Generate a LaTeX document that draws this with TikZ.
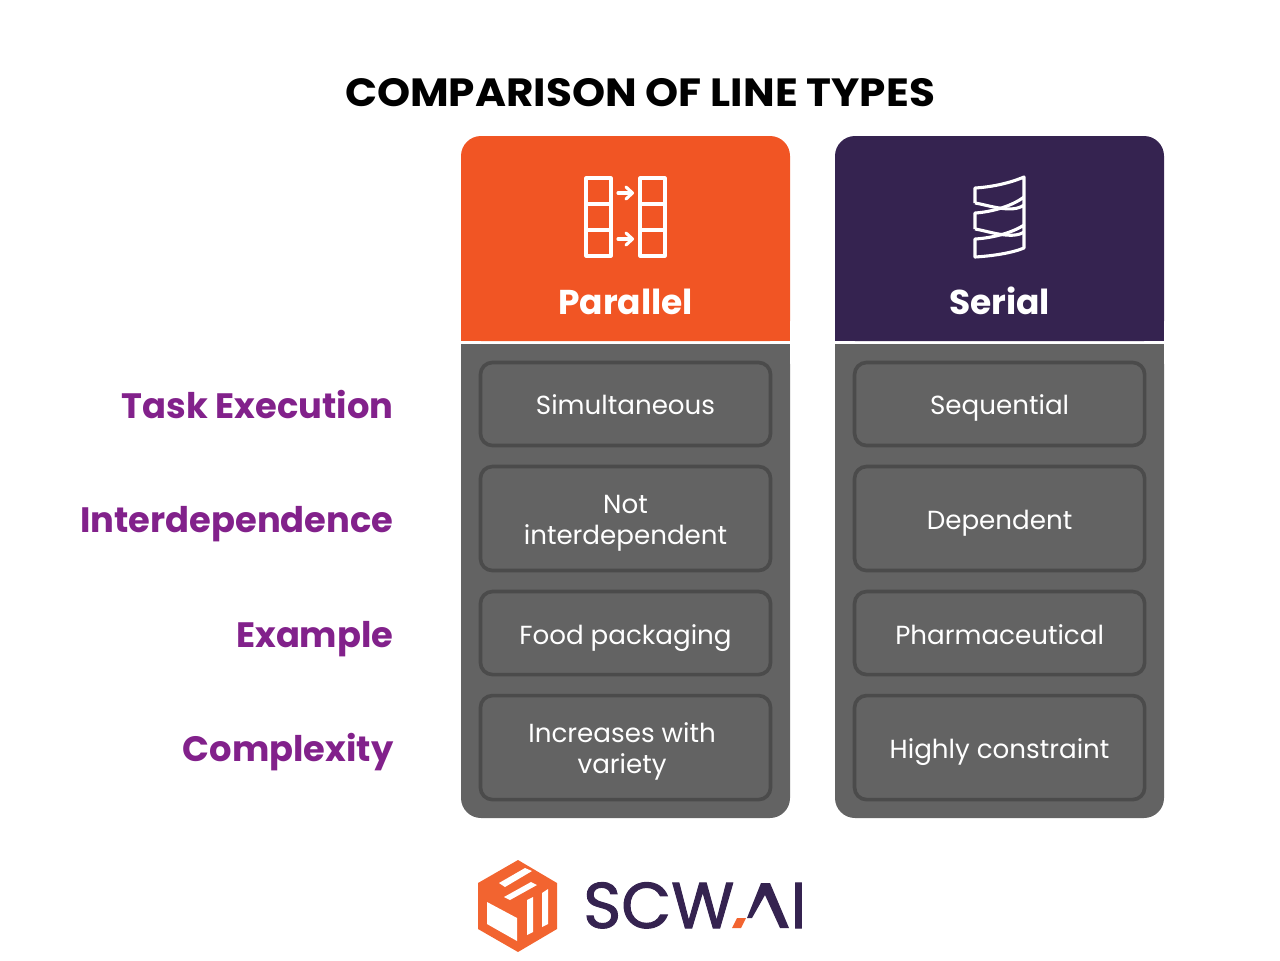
\documentclass[tikz,border=0pt]{standalone}
\usepackage{fontspec}
\setmainfont{Poppins}
\newfontfamily\titlefont[FakeStretch=1.07]{Poppins}
\newfontfamily\logofont[FakeBold=1.5]{Poppins}
\usetikzlibrary{positioning}
\definecolor{parcol}{HTML}{F15524}
\definecolor{sercol}{HTML}{352350}
\definecolor{bodycol}{HTML}{636363}
\definecolor{edgecol}{HTML}{4B4B4B}
\definecolor{labcol}{HTML}{82218B}
\definecolor{logocol}{HTML}{F26430}
\newcommand{\celltop}{\rule{0pt}{21.6pt}}
\newcommand{\twotop}{\rule{0pt}{26pt}}
\newcommand{\twobot}{\rule[-11.6pt]{0pt}{1pt}}
\newcommand{\cellbot}{\rule[-6pt]{0pt}{6pt}}
\newcommand{\labstrut}{\rule[-7pt]{0pt}{34pt}}
\tikzset{
	cell/.style={draw=edgecol, line width=2.6pt, rounded corners=0.3cm, text=white, align=center, minimum width=7.25cm, outer sep=0pt, font=\fontsize{18.6}{22}\selectfont, execute at begin node=\celltop, execute at end node=\cellbot},
	short/.style={cell, minimum height=2.075cm},
	tall/.style={cell, minimum height=2.6cm},
	rowlab/.style={text=labcol, anchor=east, font=\fontsize{25.1}{28}\selectfont\bfseries, execute at begin node=\labstrut},
	headlab/.style={text=white, font=\fontsize{24.5}{28}\selectfont\bfseries, execute at begin node=\labstrut},
	icon/.style={draw=white, line width=2.2pt, line join=round},
}
\begin{document}
\begin{tikzpicture}[x=0.025cm,y=-0.025cm]
	\useasboundingbox (0,0) rectangle (1280,960);
	\node (title) at (640,93) {\fontsize{28}{30}\titlefont\bfseries COMPARISON OF LINE TYPES};

	% columns
	\fill[parcol, rounded corners=0.5cm] (461,341) -- (461,136) -- (790,136) -- (790,341) -- cycle;
	\fill[sercol, rounded corners=0.5cm] (835,341) -- (835,136) -- (1164,136) -- (1164,341) -- cycle;
	\fill[bodycol, rounded corners=0.5cm] (461,344) -- (461,818) -- (790,818) -- (790,344) -- cycle;
	\fill[bodycol, rounded corners=0.5cm] (835,344) -- (835,818) -- (1164,818) -- (1164,344) -- cycle;
	\fill[bodycol] (461,344) rectangle (790,370);
	\fill[bodycol] (835,344) rectangle (1164,370);
	\fill[parcol] (461,320) rectangle (790,341);
	\fill[sercol] (835,320) rectangle (1164,341);
	\node[headlab] (parallel) at (625.5,300) {Parallel};
	\node[headlab] (serial) at (999.5,300) {Serial};

	% cells
	\node[short] (simul) at (625.5,404) {Simultaneous};
	\node[tall, below=0.525cm of simul] (notinter) {\twotop Not\\interdependent\twobot};
	\node[short, below=0.525cm of notinter] (food) {Food packaging};
	\node[tall, below=0.525cm of food] (variety) {\twotop Increases with\kern 0.17cm\\variety\kern 0.17cm\twobot};
	\node[short, right=2.1cm of simul] (seq) {Sequential};
	\node[tall, right=2.1cm of notinter] (dep) {Dependent};
	\node[short, right=2.1cm of food] (pharma) {Pharmaceutical};
	\node[tall, right=2.1cm of variety] (highly) {Highly constraint};

	% row labels
	\node[rowlab, left=2.05cm of simul] (task) {Task Execution};
	\node[rowlab, left=2.05cm of notinter] (inter) {Interdependence};
	\node[rowlab, left=2.05cm of food] (example) {Example};
	\node[rowlab, left=2.05cm of variety] (complex) {Complexity};

	% parallel icon
	\foreach \xa in {586,640} {
		\draw[icon] (\xa,178) rectangle ++(25,78);
		\draw[icon] (\xa,204) -- ++(25,0);
		\draw[icon] (\xa,230) -- ++(25,0);
	}
	\foreach \ya in {193,239} {
		\draw[icon, line cap=round] (618,\ya) -- (632,\ya);
		\draw[icon, line cap=round] (626,\ya-6) -- (632.5,\ya) -- (626,\ya+6);
	}

	% serial icon
	\draw[icon] (975,203) -- (975,188) .. controls (992,187) and (1010,183) .. (1024,177) -- (1024,225);
	\draw[icon] (975,203) .. controls (988,205) and (1012,214) .. (1024,205);
	\draw[icon] (975,229) -- (975,213) .. controls (992,212) and (1012,206) .. (1024,197);
	\draw[icon] (975,229) .. controls (988,231) and (1012,240) .. (1024,232);
	\draw[icon] (1024,225) .. controls (1012,233) and (992,238) .. (975,239) -- (975,257)
		.. controls (992,256) and (1012,253) .. (1024,248) -- (1024,225);

	% logo
	\fill[logocol] (518,860) -- (557,883) -- (557,929) -- (518,952) -- (478,929) -- (478,883) -- cycle;
	\fill[white] (487,902) -- (517,918) -- (517,941) -- (487,924) -- cycle;
	\fill[white] (499,883) -- (525,868) -- (532,871) -- (505,887) -- cycle;
	\fill[white] (504,897) -- (531,882) -- (537,885) -- (510,900) -- cycle;
	\fill[white] (527,900) -- (533,897) -- (533,932) -- (527,935) -- cycle;
	\fill[white] (542,893) -- (548,889) -- (548,924) -- (542,927) -- cycle;
	\node[anchor=base west, inner sep=0pt, text=sercol] (scw) at (583,928) {\fontsize{46}{46}\logofont SCW};
	\node[anchor=base, inner sep=0pt, text=sercol] (ai) at (798.5,928) {\fontsize{46}{46}\logofont I};
	\fill[sercol] (761,883) -- (770,883) -- (789,928) -- (780,928) -- (765,895) -- (752,918) -- (747,918) -- cycle;
	\fill[logocol] (737,918) -- (746,918) -- (741,928) -- (732,928) -- cycle;
\end{tikzpicture}
\end{document}
